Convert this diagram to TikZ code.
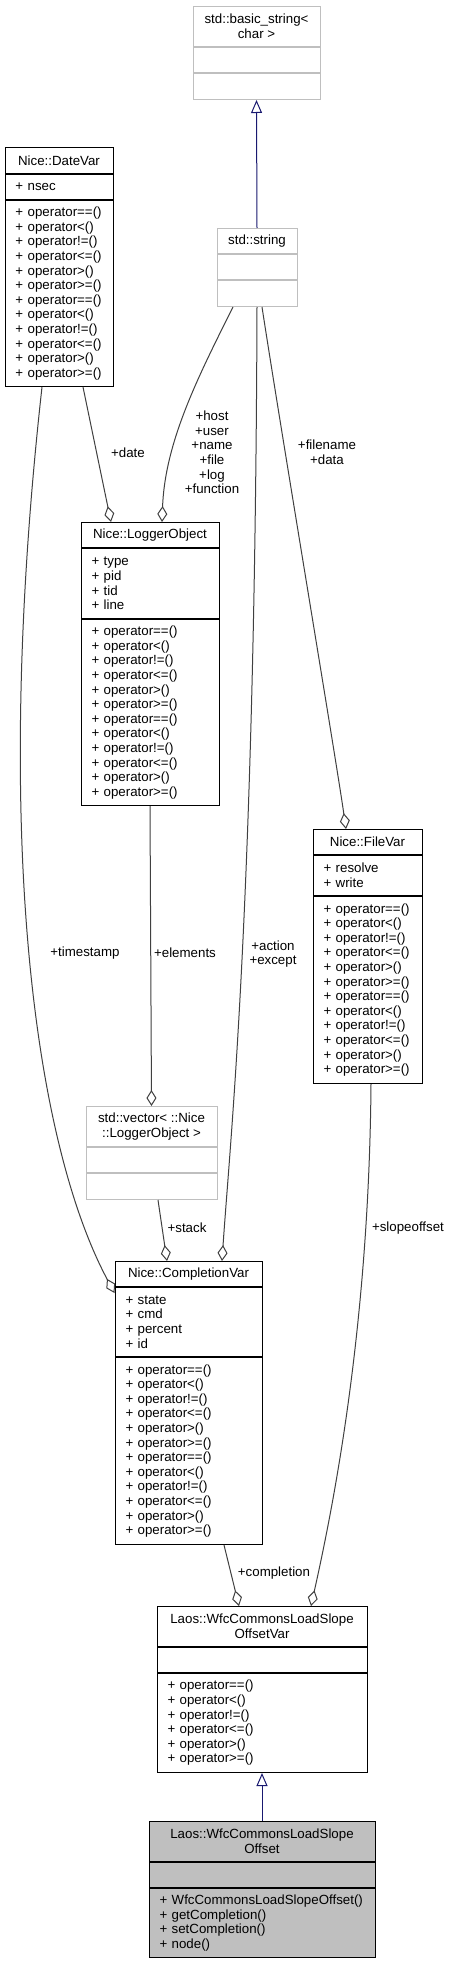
\documentclass[tikz,border=0pt]{standalone}
\usepackage{fontspec}
\setmainfont{Liberation Sans}
\usetikzlibrary{arrows.meta, positioning, calc}

\definecolor{edgegray}{RGB}{64,64,64}
\definecolor{stdgray}{RGB}{191,191,191}
\definecolor{inhblue}{RGB}{25,25,112}

\begin{document}
\begin{tikzpicture}[
        x=1pt, y=-1pt,
        every node/.style={font=\fontsize{13.3}{14.6}\selectfont},
        part/.style={rectangle, draw=black, fill=white, line width=1pt, inner ysep=2pt, inner xsep=10.5pt, anchor=north},
        head/.style={part, align=center},
        body/.style={part, align=left, text width=#1},
        stdpart/.style={part, draw=stdgray, align=center},
        agg/.style={draw=edgegray, line width=1pt, -{Diamond[open, length=16pt, width=10pt]}},
        inherit/.style={draw=inhblue, line width=1pt, -{Triangle[open, length=13pt, width=11pt]}},
        lbl/.style={align=center, inner sep=0pt}
    ]
        \fill[white] (0,0) rectangle (450,1961);
        \useasboundingbox (0,0) rectangle (450,1961);

        % std classes
        \node[stdpart, minimum width=127pt, minimum height=40pt] (bs-t) at (256.5,6) {std::basic\_string<\\char >};
        \node[stdpart, minimum width=127pt, minimum height=25pt, below=0pt of bs-t] (bs-a) {};
        \node[stdpart, minimum width=127pt, minimum height=26pt, below=0pt of bs-a] (bs-m) {};

        \node[stdpart, minimum width=80pt, minimum height=25pt] (str-t) at (257,228) {std::string};
        \node[stdpart, minimum width=80pt, minimum height=25pt, below=0pt of str-t] (str-a) {};
        \node[stdpart, minimum width=80pt, minimum height=26pt, below=0pt of str-a] (str-m) {};

        \node[stdpart, minimum width=131pt, minimum height=40pt] (vec-t) at (151.5,1106) {std::vector< ::Nice\\::LoggerObject >};
        \node[stdpart, minimum width=131pt, minimum height=25pt, below=0pt of vec-t] (vec-a) {};
        \node[stdpart, minimum width=131pt, minimum height=26pt, below=0pt of vec-a] (vec-m) {};

        % Nice::DateVar
        \node[head, minimum width=108pt, minimum height=26pt] (dv-t) at (59,147) {Nice::DateVar};
        \node[body=87pt, minimum height=25pt, below=0pt of dv-t] (dv-a) {+ nsec};
        \node[body=87pt, minimum height=186pt, below=0pt of dv-a] (dv-m) {+ operator==()\\+ operator<()\\+ operator!=()\\+ operator<=()\\+ operator>()\\+ operator>=()\\+ operator==()\\+ operator<()\\+ operator!=()\\+ operator<=()\\+ operator>()\\+ operator>=()};

        % Nice::LoggerObject
        \node[head, minimum width=138pt, minimum height=25pt] (lo-t) at (150,522) {Nice::LoggerObject};
        \node[body=117pt, minimum height=70pt, below=0pt of lo-t] (lo-a) {+ type\\+ pid\\+ tid\\+ line};
        \node[body=117pt, minimum height=186pt, below=0pt of lo-a] (lo-m) {+ operator==()\\+ operator<()\\+ operator!=()\\+ operator<=()\\+ operator>()\\+ operator>=()\\+ operator==()\\+ operator<()\\+ operator!=()\\+ operator<=()\\+ operator>()\\+ operator>=()};

        % Nice::FileVar
        \node[head, minimum width=109pt, minimum height=25pt] (fv-t) at (367.5,829) {Nice::FileVar};
        \node[body=88pt, minimum height=40pt, below=0pt of fv-t] (fv-a) {+ resolve\\+ write};
        \node[body=88pt, minimum height=187pt, below=0pt of fv-a] (fv-m) {+ operator==()\\+ operator<()\\+ operator!=()\\+ operator<=()\\+ operator>()\\+ operator>=()\\+ operator==()\\+ operator<()\\+ operator!=()\\+ operator<=()\\+ operator>()\\+ operator>=()};

        % Nice::CompletionVar
        \node[head, minimum width=147pt, minimum height=25pt] (cv-t) at (188.5,1261) {Nice::CompletionVar};
        \node[body=126pt, minimum height=69pt, below=0pt of cv-t] (cv-a) {+ state\\+ cmd\\+ percent\\+ id};
        \node[body=126pt, minimum height=187pt, below=0pt of cv-a] (cv-m) {+ operator==()\\+ operator<()\\+ operator!=()\\+ operator<=()\\+ operator>()\\+ operator>=()\\+ operator==()\\+ operator<()\\+ operator!=()\\+ operator<=()\\+ operator>()\\+ operator>=()};

        % Laos::WfcCommonsLoadSlopeOffsetVar
        \node[head, minimum width=210pt, minimum height=40pt] (wv-t) at (262,1606) {Laos::WfcCommonsLoadSlope\\OffsetVar};
        \node[body=189pt, minimum height=25pt, below=0pt of wv-t] (wv-a) {};
        \node[body=189pt, minimum height=99pt, below=0pt of wv-a] (wv-m) {+ operator==()\\+ operator<()\\+ operator!=()\\+ operator<=()\\+ operator>()\\+ operator>=()};

        % Laos::WfcCommonsLoadSlopeOffset
        \node[head, fill=stdgray, minimum width=226pt, minimum height=40pt] (wo-t) at (262,1821) {Laos::WfcCommonsLoadSlope\\Offset};
        \node[body=205pt, fill=stdgray, minimum height=25pt, below=0pt of wo-t] (wo-a) {};
        \node[body=205pt, fill=stdgray, minimum height=69pt, below=0pt of wo-a] (wo-m) {+ WfcCommonsLoadSlopeOffset()\\+ getCompletion()\\+ setCompletion()\\+ node()};

        % inheritance
        \draw[inherit] (str-t.north) -- (bs-m.south);
        \draw[inherit] (wo-t.north) -- (wv-m.south);

        % members
        \draw[agg] ([xshift=24pt]dv-m.south) -- ([xshift=-39pt]lo-t.north);
        \draw[agg] ([xshift=-24pt]str-m.south) .. controls +(-35,70) and +(3,-80) .. ([xshift=12pt]lo-t.north);
        \draw[agg] (str-m.south) .. controls +(-2,600) and +(8,-120) .. ([xshift=33.5pt]cv-t.north);
        \draw[agg] ([xshift=5pt]str-m.south) .. controls +(20,130) and +(-10,-70) .. ([xshift=-21.5pt]fv-t.north);
        \draw[agg] (lo-m.south) -- (vec-t.north);
        \draw[agg] ([xshift=-17pt]dv-m.south) .. controls +(-50,450) and +(-80,-150) .. ([yshift=-6pt]cv-a.north west);
        \draw[agg] ([xshift=6.5pt]vec-m.south) -- ([xshift=-21.5pt]cv-t.north);
        \draw[agg] ([xshift=35.5pt]cv-m.south) -- ([xshift=-23pt]wv-t.north);
        \draw[agg] ([xshift=3.5pt]fv-m.south) .. controls +(-2,250) and +(20,-90) .. ([xshift=49pt]wv-t.north);

        \node[lbl] (l-date) at (128,453) {+date};
        \node[lbl] (l-str) at (212,452.5) {+host\\+user\\+name\\+file\\+log\\+function};
        \node[lbl] (l-file) at (327,452.5) {+filename\\+data};
        \node[lbl] (l-ts) at (85,953) {+timestamp};
        \node[lbl] (l-elem) at (185,953) {+elements};
        \node[lbl] (l-act) at (273,954) {+action\\+except};
        \node[lbl] (l-stack) at (187,1228) {+stack};
        \node[lbl] (l-slope) at (408,1228) {+slopeoffset};
        \node[lbl] (l-compl) at (274,1573) {+completion};

    \end{tikzpicture}
\end{document}
